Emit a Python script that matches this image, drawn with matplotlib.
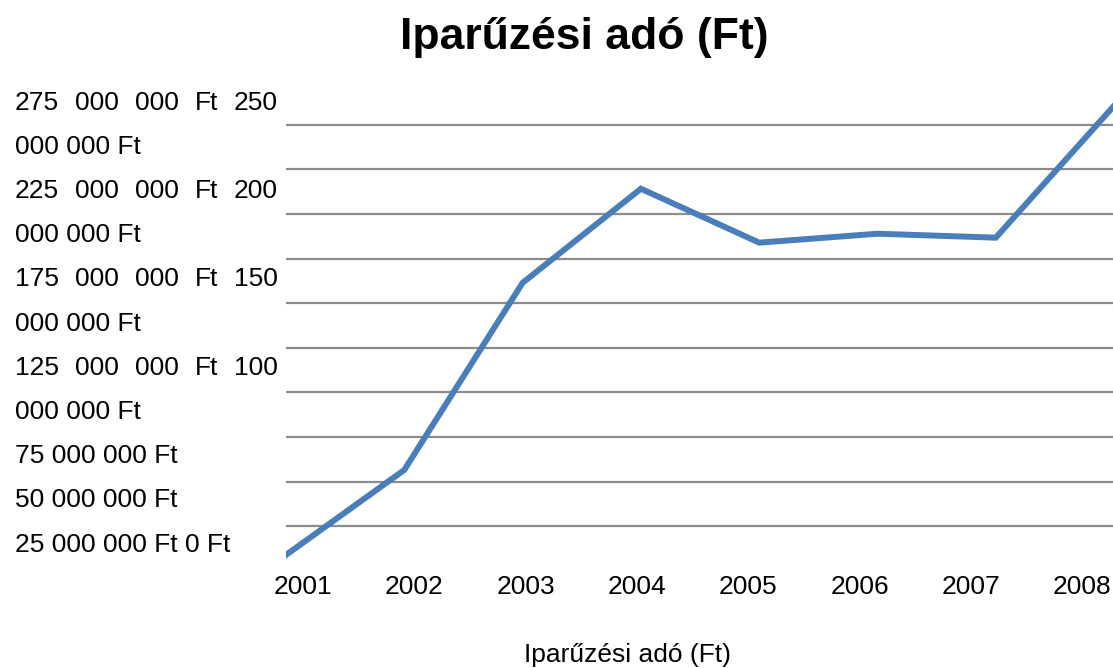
import matplotlib
matplotlib.use("Agg")
import matplotlib.pyplot as plt
import numpy as np

plt.rcParams['font.family'] = ['Liberation Sans', 'DejaVu Sans']

years = [2001, 2002, 2003, 2004, 2005, 2006, 2007, 2008]
# iparűzési adó, millió Ft
tax_mft = [9.0, 56.6, 161.4, 214.1, 183.9, 188.9, 186.7, 260.6]
grid_ticks = [25, 50, 75, 100, 125, 150, 175, 200, 225, 250]

# the y labels come out wrapped in the original, keep them like that
ylabel_lines = [
    ("275 000 000 Ft 250", True),
    ("000 000 Ft", False),
    ("225 000 000 Ft 200", True),
    ("000 000 Ft", False),
    ("175 000 000 Ft 150", True),
    ("000 000 Ft", False),
    ("125 000 000 Ft 100", True),
    ("000 000 Ft", False),
    ("75 000 000 Ft", False),
    ("50 000 000 Ft", False),
    ("25 000 000 Ft 0 Ft", False),
]

W, H = 1113, 668
step = 118.3   # px per year for the line
fig = plt.figure(figsize=(W/100, H/100), dpi=100)
ax = fig.add_axes([286/W, 1-571/H, 1-286/W, (571-80)/H])

ax.plot(years, tax_mft, color="#4a7ebb", linewidth=4.3, solid_joinstyle="miter")
ax.set_xlim(2001, 2001 + (W-286)/step)
ax.set_ylim(0, 275)
ax.set_yticks(grid_ticks)
ax.set_yticklabels([])
ax.yaxis.grid(True, color="#8c8c8c", linewidth=1.6)
ax.set_axisbelow(True)

# labels sit a bit off the data points in the original
label_pos = [2001 + (17 + 111.3*k)/step for k in range(len(years))]
ax.set_xticks(label_pos)
ax.set_xticklabels([str(y) for y in years], fontsize=19)
ax.tick_params(axis="both", length=0)
ax.tick_params(axis="x", pad=3)
for s in ax.spines.values():
    s.set_visible(False)

fig.text(584/W, 1-38/H, "Iparűzési adó (Ft)", fontsize=32, fontweight="bold",
         ha="center", va="center")
fig.text(627/W, 1-662/H, "Iparűzési adó (Ft)", fontsize=19, ha="center", va="baseline")

renderer = fig.canvas.get_renderer()
x0, x1 = 15, 278
for i, (line, justify) in enumerate(ylabel_lines):
    base = 1 - (100 + 44.2*i + 9.5)/H
    if not justify:
        fig.text(x0/W, base, line, fontsize=19, va="baseline", ha="left")
        continue
    words = line.split()
    texts = [fig.text(0, base, w, fontsize=19, va="baseline", ha="left") for w in words]
    widths = [t.get_window_extent(renderer).width for t in texts]
    gap = (x1 - x0 - sum(widths)) / (len(words) - 1)
    x = x0
    for t, w in zip(texts, widths):
        t.set_x(x/W)
        x += w + gap

fig.savefig("out.png", dpi=100)
